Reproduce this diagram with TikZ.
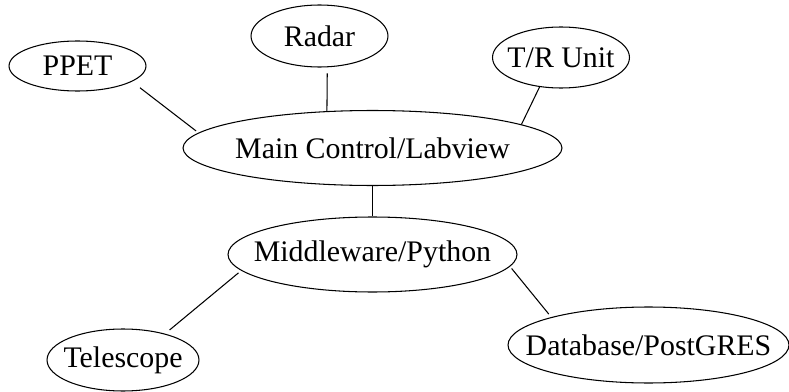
\documentclass[tikz,border=0pt]{standalone}
\usepackage{fontspec}
\setmainfont{Liberation Serif}
\usepackage{tikz}
\usetikzlibrary{shapes.geometric}
\tikzset{
  node-unit/.style={draw,ellipse,line width=0.6pt,inner xsep=-1cm,inner ysep=0pt,
    font=\fontsize{17}{20}\selectfont},
  link/.style={line width=0.6pt},
}

\begin{document}
\begin{tikzpicture}[x=0.02cm,y=-0.02cm]
  \useasboundingbox (0,0) rectangle (789,392);

  % 外围设备
  \node[node-unit,minimum width=2.74cm,minimum height=1.00cm] (ppet)   at (77.5,66)  {PPET};
  \node[node-unit,minimum width=2.74cm,minimum height=1.24cm] (radar)  at (319.5,36) {Radar};
  \node[node-unit,minimum width=2.74cm,minimum height=1.22cm] (trunit) at (561,57.5) {T/R Unit};

  % 主控与中间层
  \node[node-unit,minimum width=7.58cm,minimum height=1.50cm] (main)   at (372.5,148)   {Main Control/Labview};
  \node[node-unit,minimum width=5.78cm,minimum height=1.50cm] (middle) at (372.5,254.5) {Middleware/Python};

  % 下游
  \node[node-unit,minimum width=3.04cm,minimum height=1.24cm] (scope) at (123,360)   {Telescope};
  \node[node-unit,minimum width=5.62cm,minimum height=1.52cm] (db)    at (648.5,345) {Database/PostGRES};

  % 连线
  \draw[link,shorten <=0.2cm,shorten >=0.06cm] (ppet.-16.6) -- (main.175.8);
  \draw[link,shorten <=0.12cm] (radar.-76.3) -- (main.141.3);
  \draw[link] (trunit.-126) -- (main.9.4);
  \draw[link] (main.south) -- (middle.north);
  \draw[link,shorten <=0.07cm,shorten >=0.116cm] (middle.-173.9) -- (scope.32.8);
  \draw[link,shorten <=0.05cm,shorten >=0.078cm] (middle.-5.7) -- (db.164.7);
\end{tikzpicture}
\end{document}
